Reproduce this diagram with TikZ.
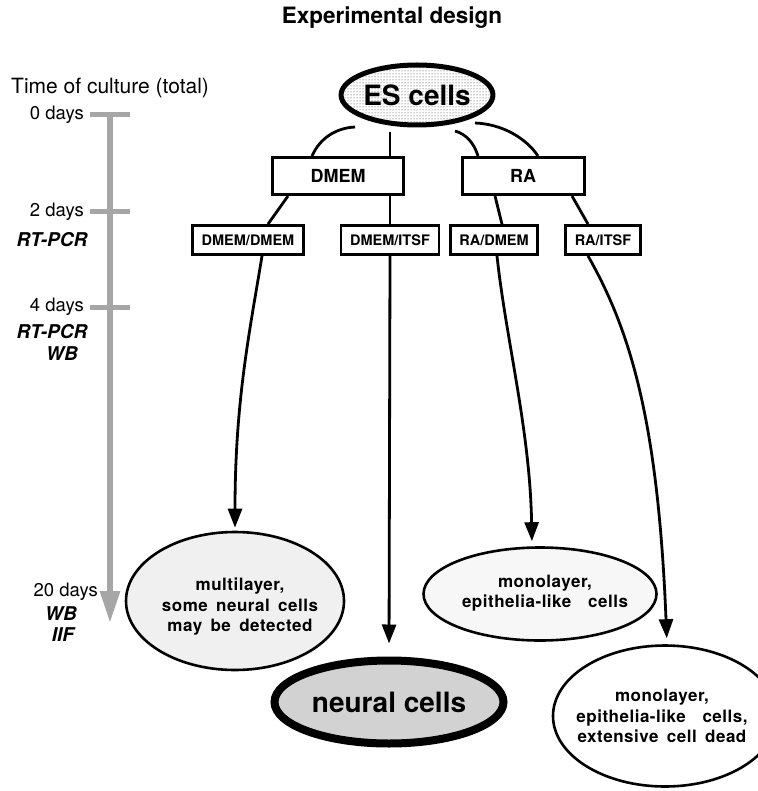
\documentclass[tikz,border=0pt]{standalone}
\usepackage{fontspec}
\setmainfont{TeX Gyre Heros}
\newfontfamily\spacedfont[WordSpace=1.6,LetterSpace=3]{TeX Gyre Heros}
\usepackage{tikz}
\usetikzlibrary{arrows.meta,positioning,calc,patterns,shapes.geometric}

\begin{document}
\begin{tikzpicture}[x=1pt,y=-1pt,
    medium/.style={draw, line width=3pt, inner sep=0pt, minimum height=37pt,
      font=\fontsize{18}{20}\selectfont\bfseries},
    treatment/.style={draw, line width=2.8pt, inner xsep=9pt, inner ysep=0pt, minimum height=29pt,
      font=\fontsize{14.5}{16}\selectfont\bfseries},
    result/.style={ellipse, draw, line width=2.6pt, fill=gray!12, inner sep=0pt},
    resulttext/.style={align=center, inner sep=0pt,
      font=\spacedfont\fontsize{17}{20.5}\selectfont\bfseries},
    link/.style={line width=2.8pt},
    arrow/.style={line width=2.8pt, -{Triangle[length=19pt,width=14pt]}},
    tick/.style={line width=5pt, gray!70},
    days/.style={anchor=east, inner sep=0pt, font=\fontsize{18.5}{20}\selectfont},
    method/.style={inner sep=0pt, font=\fontsize{19}{20}\selectfont\bfseries\itshape},
  ]
  \useasboundingbox (0,0) rectangle (757,791);

  \node (title) at (392,18) {\fontsize{22.5}{26}\selectfont\bfseries Experimental design};

  % time axis
  \node[anchor=west, inner sep=0pt] (timelbl) at (11,88) {\fontsize{21}{24}\selectfont Time of culture (total)};
  \coordinate (tstart) at (110,115);
  \coordinate (tend) at (110,623);
  \draw[line width=6pt, gray!70, -{Triangle[length=32pt,width=19pt]}] (tstart) -- (tend);
  \foreach \y/\d in {115/0,212/2,307/4}{
    \draw[tick] (90,\y) -- (130,\y);
    \node[days] (day\d) at (84,\y) {\d\ days};
  }
  \node[days] (day20) at (98,592) {20 days};
  \node[method] (pcra) at (52,240) {RT-PCR};
  \node[method] (pcrb) at (52,332) {RT-PCR};
  \node[method] (wba) at (62,354) {WB};
  \node[method] (wbb) at (61,614) {WB};
  \node[method] (iif) at (63,635) {IIF};

  % cells and media
  \node[ellipse, draw, line width=5pt, pattern=dots, pattern color=black!80,
    minimum width=135pt, minimum height=60pt, inner sep=0pt,
    font=\fontsize{28}{30}\selectfont\bfseries] (es) at (417,95) {ES cells};

  \node[medium, minimum width=131pt] (dmem) at (338,176) {DMEM};
  \node[medium, minimum width=122pt] (ra) at (523,176) {RA};

  \node[treatment] (dmemdmem) at (248,240) {DMEM/DMEM};
  \node[treatment] (dmemitsf) at (390,240) {DMEM/ITSF};
  \node[treatment] (radmem) at (494,240) {RA/DMEM};
  \node[treatment] (raitsf) at (603,240) {RA/ITSF};

  \node[result, minimum width=218pt, minimum height=138pt] (multi) at (235,601) {};
  \node[resulttext] (multitxt) at (240,607) {multilayer,\\some neural cells\\may be detected};
  \node[ellipse, draw, line width=8pt, fill=gray!35, inner sep=0pt,
    minimum width=229pt, minimum height=83pt,
    font=\fontsize{28}{30}\selectfont\bfseries] (neural) at (389,702) {neural cells};
  \node[result, minimum width=233pt, minimum height=93pt, fill=gray!6] (mono) at (540,594) {};
  \node[resulttext] (monotxt) at (545,593) {monolayer,\\epithelia-like\ \ cells};
  \node[result, minimum width=224pt, minimum height=141pt, fill=none] (dead) at (665,716) {};
  \node[resulttext] (deadtxt) at (662,716) {monolayer,\\epithelia-like\ \ cells,\\extensive cell dead};

  % ES cells to media
  \draw[link] ($(es.center)+(-62,32)$) .. controls (336,128) and (320,138) .. ($(dmem.north)+(-26,0)$);
  \draw[link] ($(es.center)+(-27,37)$) -- ($(dmem.north)+(52,0)$);
  \draw[link] ($(es.center)+(38,36)$) .. controls (466,134) and (474,143) .. ($(ra.north)+(-45,0)$);
  \draw[link] ($(es.center)+(58,28)$) .. controls (502,124) and (526,138) .. ($(ra.north)+(15,0)$);

  % media to second media
  \draw[link] ($(dmem.south)+(-50,0)$) -- ($(dmemdmem.north)+(20,0)$);
  \draw[link] ($(dmem.south)+(52,0)$) -- (dmemitsf.north);
  \draw[link] ($(ra.south)+(-28,0)$) -- ($(radmem.north)+(8,0)$);
  \draw[link] ($(ra.south)+(49,0)$) -- ($(raitsf.north)+(-15,0)$);

  % outcomes
  \draw[arrow, shorten >=3pt] ($(dmemdmem.south)+(14,0)$) .. controls (250,330) and (235,400) .. (multi.north);
  \draw[arrow, shorten >=13pt] (dmemitsf.south) -- (neural.north);
  \draw[arrow, shorten >=5pt] ($(radmem.south)+(3,0)$) .. controls (506,340) and (530,430) .. ($(mono.north)+(-8,0)$);
  \draw[arrow, shorten >=6pt] ($(raitsf.south)+(-15,0)$) .. controls (630,330) and (658,420) .. ($(dead.north)+(2,0)$);
\end{tikzpicture}
\end{document}
